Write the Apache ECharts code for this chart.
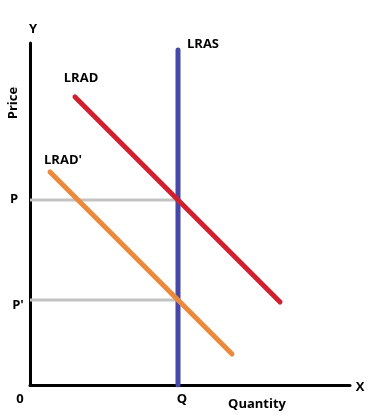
<!DOCTYPE html>
<html>
<head>
<meta charset="utf-8">
<script src="https://cdn.jsdelivr.net/npm/echarts@6/dist/echarts.min.js"></script>
<style>
html,body{margin:0;padding:0;background:#fff;}
#c{width:374px;height:420px;}
</style>
</head>
<body>
<div id="c"></div>
<script>
// Data (abstract quantity / price units)
const lrasQ = 148;
const lrasPrice = [0, 335];
const lradPts = [[45, 288], [250, 83]];
const lradPrimePts = [[20, 213], [202, 31]];
const priceLevels = { P: 185, "P'": 85 };
const tickLabels = ["0", "Q"];
const axisNames = { x: "X", y: "Y", xTitle: "Quantity", yTitle: "Price" };

const FONT = "'Open Sans', 'Liberation Sans', sans-serif";
const chart = echarts.init(document.getElementById('c'), null, { renderer: 'canvas' });

const guide = (val) => ({
  type: 'line', data: [[0, val], [lrasQ, val]], symbol: 'none', silent: true,
  lineStyle: { color: '#C3C3C3', width: 3 }, z: 1
});

chart.setOption({
  animation: false,
  backgroundColor: '#fff',
  grid: { left: 30, right: 24, top: 43, bottom: 35 },
  xAxis: {
    type: 'value', min: 0, max: 320,
    axisLine: { show: true, lineStyle: { color: '#000', width: 3 } },
    axisTick: { show: false }, axisLabel: { show: false }, splitLine: { show: false }
  },
  yAxis: {
    type: 'value', min: 0, max: 342,
    axisLine: { show: true, lineStyle: { color: '#000', width: 3 } },
    axisTick: { show: false }, axisLabel: { show: false }, splitLine: { show: false }
  },
  series: [
    guide(priceLevels.P),
    guide(priceLevels["P'"]),
    {
      type: 'line', name: 'LRAS', data: [[lrasQ, lrasPrice[0]], [lrasQ, lrasPrice[1]]],
      symbol: 'none', lineStyle: { color: '#4747A8', width: 5, cap: 'round' }, z: 2
    },
    {
      type: 'line', name: 'LRAD', data: lradPts,
      symbol: 'none', lineStyle: { color: '#D0202E', width: 5, cap: 'round' }, z: 3
    },
    {
      type: 'line', name: "LRAD'", data: lradPrimePts,
      symbol: 'none', lineStyle: { color: '#EB8A3C', width: 5, cap: 'round' }, z: 3
    }
  ]
});

function px(x, y) { return chart.convertToPixel({ gridIndex: 0 }, [x, y]); }
function txt(s, x, y, opts) {
  return Object.assign({
    type: 'text', x: x, y: y,
    style: { text: s, font: 'bold 13px ' + FONT, fill: '#000', align: 'center', verticalAlign: 'middle' }
  }, opts || {});
}

const origin = px(0, 0);
const qPix = px(lrasQ, 0);
const pPix = px(0, priceLevels.P);
const ppPix = px(0, priceLevels["P'"]);
const lrasTop = px(lrasQ, lrasPrice[1]);
const lradStart = px(lradPts[0][0], lradPts[0][1]);
const lradPStart = px(lradPrimePts[0][0], lradPrimePts[0][1]);
const yTop = px(0, 342);
const xEnd = px(320, 0);

chart.setOption({
  graphic: [
    txt(axisNames.y, yTop[0] + 3, yTop[1] - 14),
    txt(axisNames.x, xEnd[0] + 10, xEnd[1] + 2),
    txt(tickLabels[0], origin[0] - 10, origin[1] + 14),
    txt(tickLabels[1], qPix[0] + 4, qPix[1] + 14),
    txt(axisNames.xTitle, 257, 404),
    txt(axisNames.yTitle, 13, 103, { rotation: Math.PI / 2 }),
    txt('P', pPix[0] - 16, pPix[1] - 1),
    txt("P'", ppPix[0] - 12, ppPix[1] + 5),
    txt('LRAS', lrasTop[0] + 25, lrasTop[1] - 6),
    txt('LRAD', lradStart[0] + 6, lradStart[1] - 19),
    txt("LRAD'", lradPStart[0] + 13, lradPStart[1] - 12)
  ]
});
</script>
</body>
</html>
